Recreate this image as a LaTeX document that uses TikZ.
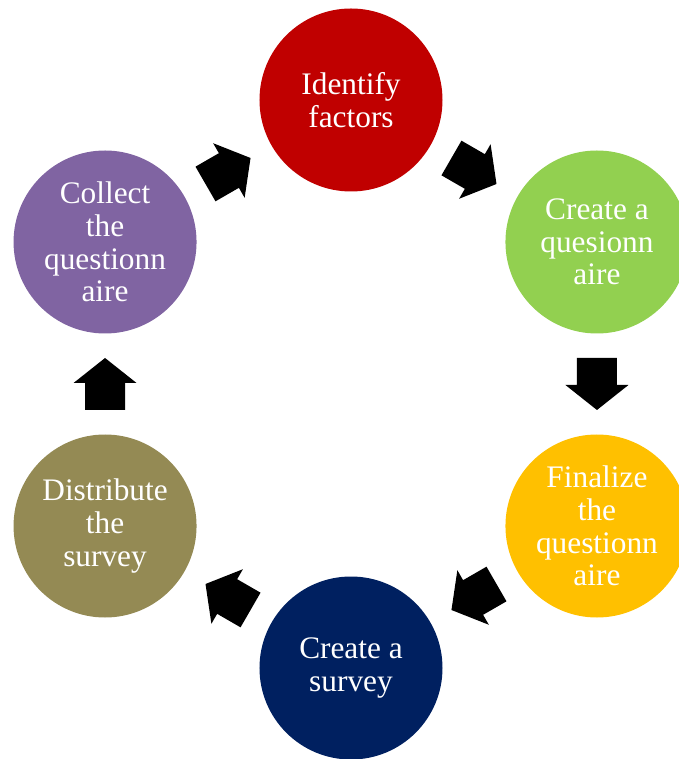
\documentclass[tikz,border=0pt]{standalone}
\usepackage{fontspec}
\setmainfont{Liberation Serif}
\usetikzlibrary{calc}

\definecolor{stepred}{HTML}{C00000}
\definecolor{stepgreen}{HTML}{92D050}
\definecolor{stepgold}{HTML}{FFC000}
\definecolor{stepnavy}{HTML}{002060}
\definecolor{stepolive}{HTML}{948A54}
\definecolor{steppurple}{HTML}{8064A2}

\tikzset{
  stage/.style={circle, fill=#1, minimum size=137.25pt, inner sep=0pt,
    text=white, align=center, font=\fontsize{23.5}{24.5}\selectfont},
  turn/.style={fill=black}
}

\begin{document}
\begin{tikzpicture}[x=0.75pt,y=0.75pt]
  \useasboundingbox (-351,-375) rectangle (327,384);
  % six stages on a ring, clockwise from the top
  \node[stage=stepred]    (ident)   at (90:284)   {Identify\\factors};
  \node[stage=stepgreen]  (createq) at (30:284)   {Create a\\quesionn\\aire};
  \node[stage=stepgold]   (final)   at (-30:284)  {Finalize\\the\\questionn\\aire};
  \node[stage=stepnavy]   (survey)  at (-90:284)  {Create a\\survey};
  \node[stage=stepolive]  (distrib) at (-150:284) {Distribute\\the\\survey};
  \node[stage=steppurple] (collect) at (150:284)  {Collect\\the\\questionn\\aire};
  % block arrows half way between neighbours
  \foreach \from/\to/\dir in {ident/createq/-30, createq/final/-90,
      final/survey/-150, survey/distrib/150, distrib/collect/90,
      collect/ident/30}
    \fill[turn, shift={($(\from)!0.5!(\to)$)}, rotate=\dir]
      (-26,-20) -- (1,-20) -- (1,-31.5) -- (26,0) -- (1,31.5) -- (1,20)
      -- (-26,20) -- cycle;
\end{tikzpicture}
\end{document}
